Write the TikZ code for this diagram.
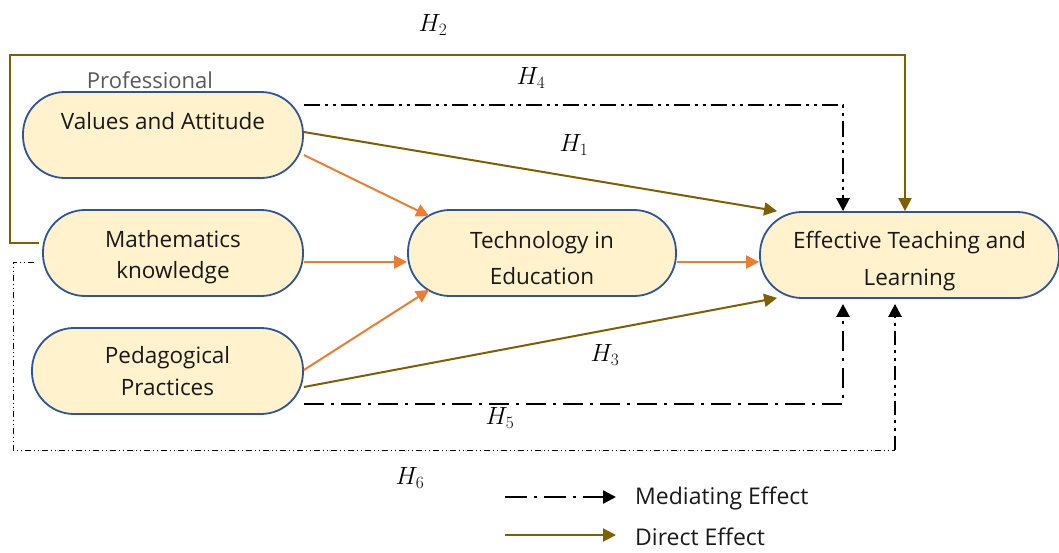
\documentclass[tikz,border=0pt]{standalone}
\usepackage{fontspec}
\setmainfont{Open Sans}
\usetikzlibrary{arrows.meta,calc}
\definecolor{olive}{HTML}{7F6000}
\definecolor{orng}{HTML}{ED7D31}
\definecolor{nodefill}{HTML}{FFF2CC}
\definecolor{nodeborder}{HTML}{2F5597}
\definecolor{txtgray}{HTML}{595959}
\begin{document}
\begin{tikzpicture}[x=1pt,y=-1pt,
  box/.style={draw=nodeborder,fill=nodefill,line width=1.8pt,rounded corners=42pt,
    minimum height=86pt,inner sep=0pt,align=center,font=\fontsize{22.5}{35}\selectfont,text=black!90},
  tri/.style={-{Triangle[length=13pt,width=13pt]}},
  direct/.style={draw=olive,line width=2pt,tri},
  tech/.style={draw=orng,line width=2pt,tri},
  med/.style={draw=black,line width=2.6pt,tri},
  hlab/.style={font=\fontsize{24}{24}\selectfont},
  dashdotdot/.style={dash pattern=on 16pt off 5pt on 3pt off 5pt on 3pt off 5pt},
  dashdotx/.style={dash pattern=on 20pt off 7pt on 3pt off 7pt},
  thindd/.style={line width=1pt,dash pattern=on 6pt off 3pt on 1pt off 3pt on 1pt off 3pt}
]
\useasboundingbox (0,0) rectangle (1059,552);

% nodes
\node[box,minimum width=280pt,font=\fontsize{22.5}{28}\selectfont] (va) at (163,135) {Values and Attitude\\\mbox{}};
\node[box,minimum width=260pt,font=\fontsize{22.5}{31}\selectfont] (mk) at (173,253) {\rule{0pt}{26pt}Mathematics\\knowledge};
\node[box,minimum width=271pt,font=\fontsize{22.5}{32}\selectfont] (pp) at (167.5,371) {Pedagogical\\Practices};
\node[box,minimum width=268pt,font=\fontsize{22.5}{36}\selectfont] (te) at (542,253) {\rule{0pt}{27pt}Technology in\\Education};
\node[box,minimum width=299pt,font=\fontsize{22.5}{37}\selectfont] (etl) at (909.5,255) {\rule{0pt}{29pt}Effective Teaching and\\Learning};
\node[font=\fontsize{22}{22}\selectfont,text=txtgray] (prof) at (150,80) {Professional};

% H2
\coordinate (h2s) at ($(mk.west)+(-3,-10)$);
\draw[direct] (h2s) -- (10,243) -- (10,55) -- (905,55) -- (etl.north -| 905,0);
% H4
\draw[med,dashdotdot] ($(va.east)+(0,-30)$) -- (843,105) -- (etl.north -| 843,0);
% H1
\draw[direct] ($(va.east)+(0,-3)$) -- ($(etl.north west)+(18,0)$);
% H3
\draw[direct] ($(pp.east)+(0,16)$) -- ($(etl.south west)+(18,-1)$);
% H5
\draw[med,dashdotx] ($(pp.east)+(0,33)$) -- (843,404) -- ($(etl.south -| 843,0)+(0,5)$);
% H6
\coordinate (h6c) at (895,450);
\draw[thindd] ($(mk.west)+(-8,9)$) -- (13,262) -- (13,450) -- (h6c);
\draw[med,dash pattern=on 14pt off 5pt on 3pt off 5pt on 3pt off 5pt] (h6c) -- ($(etl.south -| 895,0)+(0,5)$);

% orange
\draw[tech] ($(va.east)+(0,20)$) -- ($(te.north west)+(22,7)$);
\draw[tech] ($(mk.east)+(0,9)$) -- ($(te.west)+(0,9)$);
\draw[tech] ($(pp.east)+(0,-1)$) -- ($(te.south west)+(22,-7)$);
\draw[tech] ($(te.east)+(0,9)$) -- ($(etl.west)+(0,7)$);

% labels
\node[hlab] (l2) at (433,25) {$H_2$};
\node[hlab] (l4) at (531,78) {$H_4$};
\node[hlab] (l1) at (574,145) {$H_1$};
\node[hlab] (l3) at (605,355) {$H_3$};
\node[hlab] (l5) at (500,418) {$H_5$};
\node[hlab] (l6) at (410,478) {$H_6$};

% legend
\coordinate (m1) at (505,497);
\coordinate (m2) at (616,497);
\coordinate (d1) at (505,535);
\coordinate (d2) at (616,535);
\draw[med,dash pattern=on 22pt off 7pt on 3pt off 7pt] (m1) -- (m2);
\draw[direct] (d1) -- (d2);
\node[anchor=west,font=\fontsize{23}{23}\selectfont,text=black!90,inner sep=0pt] (lm) at (635,498) {Mediating Effect};
\node[anchor=west,font=\fontsize{23}{23}\selectfont,text=black!90,inner sep=0pt] (ld) at (635,537) {Direct Effect};
\end{tikzpicture}
\end{document}
